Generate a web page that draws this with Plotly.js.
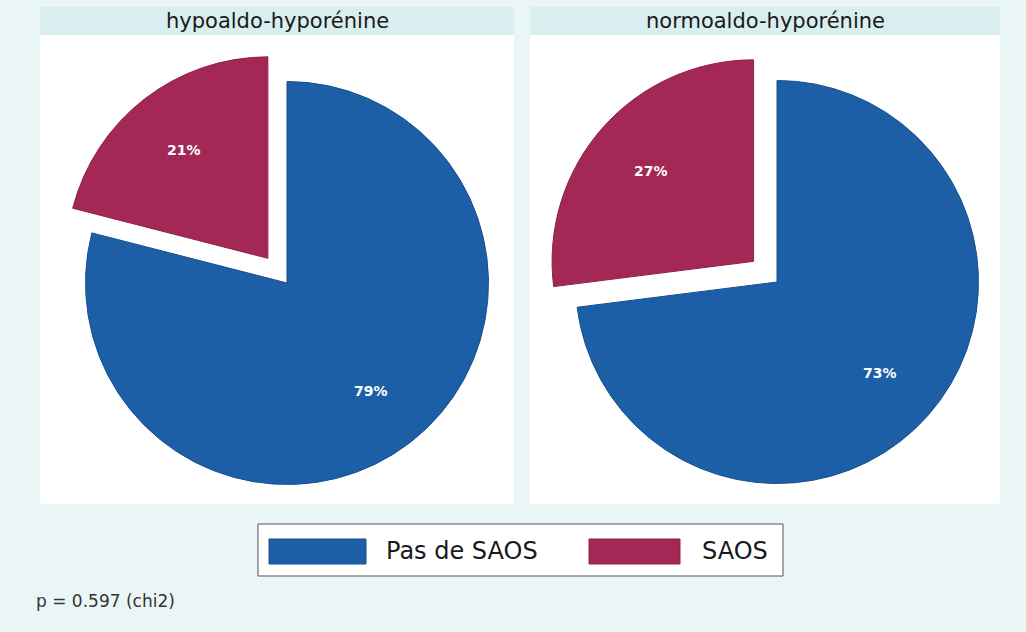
<!DOCTYPE html>
<html>
<head>
<meta charset="utf-8">
<script src="https://cdn.plot.ly/plotly-3.0.1.min.js"></script>
<style>html,body{margin:0;padding:0;background:#eaf6f6;}#chart{width:1026px;height:632px;}</style>
</head>
<body>
<div id="chart"></div>
<script>
// ---- data ----
const categories = ["Pas de SAOS", "SAOS"];
const panelTitles = ["hypoaldo-hyporénine", "normoaldo-hyporénine"];
const valuesHypo = [79, 21];
const valuesNormo = [73, 27];
const pValueNote = "p = 0.597 (chi2)";

// ---- style ----
const colors = ["#1d5fa7", "#a32856"];
const edgeColors = ["#174f8c", "#8c2249"];
const W = 1026, H = 632;
const FONT = "DejaVu Sans, Arial, sans-serif";

function px(x){ return x / W; }
function py(y){ return 1 - y / H; }

// pie geometry (pixels) : centre, radius, pull
const pullAmount = 0.155;
const pulls = [0, pullAmount];
const labelRadius = 0.68;
const pies = [
  {cx: 287, cy: 283, r: 201.5, values: valuesHypo, title: panelTitles[0], panel: [40, 514]},
  {cx: 777, cy: 282, r: 201.5, values: valuesNormo, title: panelTitles[1], panel: [530, 1000]}
];

const traces = pies.map(p => {
  const half = p.r * (1 + pullAmount);
  return {
    type: "pie",
    labels: categories,
    values: p.values,
    sort: false,
    direction: "clockwise",
    rotation: 0,
    pull: pulls,
    marker: {colors: colors, line: {color: edgeColors, width: 1}},
    textinfo: "none",
    hoverinfo: "label+percent",
    showlegend: false,
    domain: {x: [px(p.cx - half), px(p.cx + half)], y: [py(p.cy + half), py(p.cy - half)]}
  };
});

const shapes = [];
const annotations = [];
pies.forEach(p => {
  shapes.push({type: "rect", xref: "paper", yref: "paper", layer: "below",
    x0: px(p.panel[0]), x1: px(p.panel[1]), y0: py(504), y1: py(7),
    fillcolor: "#ffffff", line: {width: 0}});
  shapes.push({type: "rect", xref: "paper", yref: "paper", layer: "below",
    x0: px(p.panel[0]), x1: px(p.panel[1]), y0: py(35), y1: py(7),
    fillcolor: "#d9eeee", line: {width: 0}});
  annotations.push({xref: "paper", yref: "paper", x: px((p.panel[0] + p.panel[1]) / 2), y: py(21),
    text: p.title, showarrow: false, xanchor: "center", yanchor: "middle",
    font: {family: FONT, size: 21, color: "#1a1a1a"}});

  // percentage labels placed along each slice's mid-angle (derived from the values)
  const total = p.values.reduce((a, b) => a + b, 0);
  let cum = 0;
  p.values.forEach((v, i) => {
    const theta = 2 * Math.PI * (cum + v / 2) / total;
    cum += v;
    const dist = (pulls[i] + labelRadius) * p.r;
    const x = p.cx + dist * Math.sin(theta);
    const y = p.cy - dist * Math.cos(theta);
    annotations.push({xref: "paper", yref: "paper", x: px(x), y: py(y),
      text: Math.round(100 * v / total) + "%", showarrow: false,
      xanchor: "center", yanchor: "middle",
      font: {family: FONT, size: 14, color: "#ffffff", weight: "bold"}});
  });
});

// legend box (drawn manually to reproduce wide swatches)
shapes.push({type: "rect", xref: "paper", yref: "paper",
  x0: px(258), x1: px(783), y0: py(576), y1: py(524),
  fillcolor: "#ffffff", line: {color: "#555555", width: 1}});
const legendItems = [
  {sw: [269, 366], tx: 384},
  {sw: [589, 680], tx: 700}
];
legendItems.forEach((it, i) => {
  shapes.push({type: "rect", xref: "paper", yref: "paper",
    x0: px(it.sw[0]), x1: px(it.sw[1]), y0: py(564), y1: py(539),
    fillcolor: colors[i], line: {color: edgeColors[i], width: 1}});
  annotations.push({xref: "paper", yref: "paper", x: px(it.tx), y: py(551),
    text: categories[i], showarrow: false, xanchor: "left", yanchor: "middle",
    font: {family: FONT, size: 24, color: "#1a1a1a"}});
});

annotations.push({xref: "paper", yref: "paper", x: px(34), y: py(601),
  text: pValueNote, showarrow: false, xanchor: "left", yanchor: "middle",
  font: {family: FONT, size: 17, color: "#333333"}});

const layout = {
  width: W, height: H,
  margin: {l: 0, r: 0, t: 0, b: 0},
  paper_bgcolor: "#eaf6f6",
  plot_bgcolor: "#eaf6f6",
  showlegend: false,
  shapes: shapes,
  annotations: annotations,
  font: {family: FONT}
};

Plotly.newPlot("chart", traces, layout, {displayModeBar: false, staticPlot: true});
</script>
</body>
</html>
